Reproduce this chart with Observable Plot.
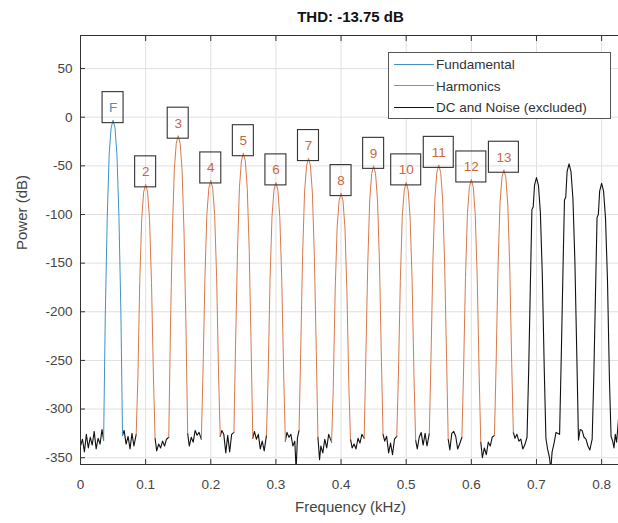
<!DOCTYPE html>
<html>
<head>
<meta charset="utf-8">
<script src="https://cdn.jsdelivr.net/npm/d3@7"></script>
<script src="https://cdn.jsdelivr.net/npm/@observablehq/plot@0.6"></script>
<style>
  html, body { margin: 0; padding: 0; background: #fff; overflow: hidden; }
  #wrap { position: relative; width: 618px; height: 523px; font-family: "Liberation Sans", Arial, sans-serif; }
  #wrap svg { position: absolute; left: 0; top: 0; }
  #legend { position: absolute; left: 388px; top: 52px; width: 221px; height: 65px; border: 1px solid #555; background: #fff; }
  .item { position: absolute; left: 5px; height: 14px; font-size: 13.5px; color: #333; line-height: 14px; white-space: nowrap; }
  .sw { display: inline-block; width: 40px; height: 0; border-top: 1px solid; vertical-align: middle; margin-right: 2px; position: relative; top: -1px; }
</style>
</head>
<body>
<div id="wrap"></div>
<script>
// ---- data ----
const chartTitle = "THD: -13.75 dB";
const xLabel = "Frequency (kHz)";
const yLabel = "Power (dB)";
const xTicks = [0, 0.1, 0.2, 0.3, 0.4, 0.5, 0.6, 0.7, 0.8];
const yTicks = [-350, -300, -250, -200, -150, -100, -50, 0, 50];
const seriesNames = ["Fundamental", "Harmonics", "DC and Noise (excluded)"];
const seriesColors = ["#3f93c6", "#d9794a", "#111111"];

// labelled peaks: F and harmonics 2..13
const peakLabels = ["F", "2", "3", "4", "5", "6", "7", "8", "9", "10", "11", "12", "13"];
const peakFreqs = [0.05, 0.10, 0.15, 0.20, 0.25, 0.30, 0.35, 0.40, 0.45, 0.50, 0.55, 0.60, 0.65];
const peakPowers = [-3, -69, -19, -65, -37, -67, -42, -78, -50, -67, -49, -64, -54];

// fundamental trace [kHz, dB]
const fundamentalTrace = [[0.0355,-332],[0.038,-205],[0.041,-104],[0.044,-38],[0.047,-11],[0.05,-3],[0.053,-11],[0.056,-39],[0.059,-102],[0.062,-200],[0.0645,-327]];

// harmonic traces [kHz, dB]
const harmonicTraces = [
  [[0.0855,-326],[0.088,-270],[0.091,-168],[0.094,-104],[0.097,-77],[0.1,-69],[0.103,-77],[0.106,-105],[0.109,-170],[0.112,-268],[0.1145,-330]],
  [[0.1355,-329],[0.138,-220],[0.141,-118],[0.144,-54],[0.147,-27],[0.15,-19],[0.153,-27],[0.156,-55],[0.159,-120],[0.162,-218],[0.1645,-325]],
  [[0.1855,-331],[0.188,-264],[0.191,-166],[0.194,-100],[0.197,-73],[0.2,-65],[0.203,-73],[0.206,-101],[0.209,-165],[0.212,-266],[0.2145,-328]],
  [[0.2355,-324],[0.238,-236],[0.241,-138],[0.244,-72],[0.247,-45],[0.25,-37],[0.253,-45],[0.256,-73],[0.259,-136],[0.262,-238],[0.2645,-330]],
  [[0.2855,-327],[0.288,-268],[0.291,-166],[0.294,-102],[0.297,-75],[0.3,-67],[0.303,-75],[0.306,-103],[0.309,-168],[0.312,-266],[0.3145,-333]],
  [[0.3355,-322],[0.338,-243],[0.341,-141],[0.344,-77],[0.347,-50],[0.35,-42],[0.353,-50],[0.356,-78],[0.359,-143],[0.362,-241],[0.3645,-329]],
  [[0.3855,-334],[0.388,-279],[0.391,-177],[0.394,-113],[0.397,-86],[0.4,-78],[0.403,-86],[0.406,-114],[0.409,-179],[0.412,-277],[0.4145,-331]],
  [[0.4355,-330],[0.438,-249],[0.441,-151],[0.444,-85],[0.447,-58],[0.45,-50],[0.453,-58],[0.456,-86],[0.459,-150],[0.462,-251],[0.4645,-326]],
  [[0.4855,-328],[0.488,-266],[0.491,-168],[0.494,-102],[0.497,-75],[0.5,-67],[0.503,-75],[0.506,-103],[0.509,-166],[0.512,-268],[0.5145,-332]],
  [[0.5355,-325],[0.538,-250],[0.541,-148],[0.544,-84],[0.547,-57],[0.55,-49],[0.553,-57],[0.556,-85],[0.559,-150],[0.562,-248],[0.5645,-331]],
  [[0.5855,-329],[0.588,-263],[0.591,-165],[0.594,-99],[0.597,-72],[0.6,-64],[0.603,-72],[0.606,-100],[0.609,-164],[0.612,-265],[0.6145,-334]],
  [[0.6355,-327],[0.638,-255],[0.641,-153],[0.644,-89],[0.647,-62],[0.65,-54],[0.653,-62],[0.656,-90],[0.659,-155],[0.662,-253],[0.6645,-324]]
];

// DC and noise traces (black) [kHz, dB]
const noiseTraces = [
  [[0,-338],[0.003,-331],[0.006,-344],[0.009,-326],[0.012,-340],[0.015,-329],[0.018,-337],[0.021,-323],[0.024,-341],[0.027,-330],[0.030,-336],[0.033,-321],[0.0355,-332]],
  [[0.0645,-327],[0.067,-322],[0.070,-336],[0.073,-328],[0.076,-341],[0.079,-325],[0.082,-338],[0.0855,-326]],
  [[0.1145,-330],[0.117,-343],[0.120,-336],[0.123,-340],[0.126,-333],[0.129,-338],[0.132,-331],[0.1355,-329]],
  [[0.1645,-325],[0.167,-338],[0.170,-329],[0.173,-334],[0.176,-322],[0.179,-327],[0.182,-324],[0.1855,-331]],
  [[0.2145,-328],[0.217,-322],[0.220,-326],[0.223,-345],[0.226,-327],[0.229,-344],[0.232,-326],[0.2355,-324]],
  [[0.2645,-330],[0.267,-323],[0.270,-331],[0.273,-326],[0.276,-341],[0.279,-333],[0.282,-343],[0.2855,-327]],
  [[0.3145,-333],[0.317,-324],[0.320,-329],[0.323,-326],[0.326,-338],[0.329,-333],[0.331,-362],[0.333,-330],[0.3355,-322]],
  [[0.3645,-329],[0.367,-352],[0.369,-338],[0.372,-345],[0.375,-331],[0.378,-340],[0.381,-326],[0.3855,-334]],
  [[0.4145,-331],[0.417,-340],[0.420,-336],[0.423,-341],[0.426,-330],[0.429,-335],[0.432,-326],[0.4355,-330]],
  [[0.4645,-326],[0.467,-333],[0.470,-328],[0.473,-345],[0.476,-335],[0.479,-347],[0.482,-331],[0.4855,-328]],
  [[0.5145,-332],[0.517,-341],[0.520,-329],[0.523,-324],[0.526,-337],[0.529,-325],[0.532,-338],[0.5355,-325]],
  [[0.5645,-331],[0.567,-342],[0.570,-325],[0.573,-323],[0.576,-328],[0.579,-341],[0.582,-336],[0.5855,-329]],
  [[0.6145,-334],[0.617,-350],[0.620,-340],[0.623,-347],[0.626,-334],[0.629,-338],[0.632,-329],[0.6355,-327]],
  [[0.6645,-324],[0.667,-330],[0.670,-326],[0.673,-333],[0.676,-331],[0.679,-341],[0.682,-337],[0.6855,-329],
   [0.688,-262],[0.691,-160],[0.693,-95],[0.695,-92],[0.697,-70],[0.7,-62],[0.703,-70],[0.706,-98],[0.709,-163],[0.712,-261],[0.7145,-330],
   [0.717,-341],[0.720,-350],[0.722,-362],[0.724,-344],[0.727,-335],[0.730,-324],[0.7355,-326],
   [0.738,-248],[0.741,-147],[0.743,-85],[0.745,-82],[0.747,-56],[0.75,-48],[0.753,-56],[0.756,-84],[0.759,-149],[0.762,-247],[0.7645,-332],
   [0.767,-321],[0.770,-322],[0.773,-329],[0.776,-331],[0.779,-338],[0.782,-342],[0.7855,-331],
   [0.788,-267],[0.791,-168],[0.793,-103],[0.795,-100],[0.797,-76],[0.8,-68],[0.803,-76],[0.806,-104],[0.809,-167],[0.812,-269],[0.8145,-328],
   [0.817,-333],[0.819,-340],[0.821,-326],[0.823,-334],[0.826,-310],[0.829,-220],[0.832,-120]]
];

// ---- build tables ----
const toRows = (traces) => traces.flatMap((t, i) => t.map(([f, p]) => ({f, p, seg: i})));
const noiseRows = toRows(noiseTraces);
const harmRows = toRows(harmonicTraces);
const fundRows = toRows([fundamentalTrace]);
const labelRows = peakLabels.map((t, i) => ({t, f: peakFreqs[i], p: peakPowers[i], c: i === 0 ? seriesColors[0] : "#c9683e"}));

const font = "Liberation Sans, Arial, sans-serif";

const chart = Plot.plot({
  width: 618,
  height: 523,
  marginLeft: 80,
  marginRight: -2,
  marginTop: 35,
  marginBottom: 59,
  style: {fontFamily: font, background: "white", overflow: "hidden"},
  x: {domain: [0, 0.829]},
  y: {domain: [-357, 84]},
  marks: [
    Plot.gridX(xTicks, {stroke: "#e0e0e0", strokeOpacity: 1}),
    Plot.gridY(yTicks, {stroke: "#e0e0e0", strokeOpacity: 1}),
    Plot.line(noiseRows, {x: "f", y: "p", z: "seg", stroke: seriesColors[2], strokeWidth: 1.1, clip: true}),
    Plot.line(harmRows, {x: "f", y: "p", z: "seg", stroke: seriesColors[1], strokeWidth: 1, clip: true}),
    Plot.line(fundRows, {x: "f", y: "p", z: "seg", stroke: seriesColors[0], strokeWidth: 1, clip: true}),
    Plot.rect(labelRows.filter(d => d.t.length === 1), {x1: "f", x2: "f", y1: "p", y2: "p",
      insetLeft: -10.5, insetRight: -10.5, insetTop: -28, insetBottom: -3, fill: "none", stroke: "#333", strokeWidth: 1.1}),
    Plot.rect(labelRows.filter(d => d.t.length === 2), {x1: "f", x2: "f", y1: "p", y2: "p",
      insetLeft: -15, insetRight: -15, insetTop: -28, insetBottom: -3, fill: "none", stroke: "#333", strokeWidth: 1.1}),
    Plot.text(labelRows, {x: "f", y: "p", text: "t", dy: -12.5, fill: "c", fontSize: 13.5}),
    Plot.frame({stroke: "#333"}),
    Plot.axisX({ticks: xTicks, tickSize: 0, tickPadding: 15, tickFormat: d => String(d), fontSize: 13.5, color: "#444", label: null}),
    Plot.axisX({ticks: xTicks, tickSize: -5, tickFormat: () => "", label: null, stroke: "#333"}),
    Plot.axisX({anchor: "top", ticks: xTicks, tickSize: -5, tickFormat: () => "", label: null, stroke: "#333"}),
    Plot.axisY({ticks: yTicks, tickSize: 0, tickPadding: 8, tickFormat: d => String(d), fontSize: 13.5, color: "#444", label: null}),
    Plot.axisY({ticks: yTicks, tickSize: -5, tickFormat: () => "", label: null, stroke: "#333"}),
    Plot.text([xLabel], {text: d => d, frameAnchor: "bottom", dy: 47, fontSize: 15, fill: "#444"}),
    Plot.text([yLabel], {text: d => d, frameAnchor: "left", dx: -58, rotate: -90, fontSize: 15, fill: "#444"}),
    Plot.text([chartTitle], {text: d => d, frameAnchor: "top", dy: -24, fontWeight: "bold", fontSize: 15, fill: "#111"})
  ]
});

const wrap = document.getElementById("wrap");
wrap.appendChild(chart);

// legend (HTML)
const legend = document.createElement("div");
legend.id = "legend";
seriesNames.forEach((name, i) => {
  const item = document.createElement("div");
  item.className = "item";
  item.style.top = (5 + i * 21.5) + "px";
  const sw = document.createElement("span");
  sw.className = "sw";
  sw.style.borderTopColor = seriesColors[i];
  item.appendChild(sw);
  item.appendChild(document.createTextNode(name));
  legend.appendChild(item);
});
wrap.appendChild(legend);
</script>
</body>
</html>
